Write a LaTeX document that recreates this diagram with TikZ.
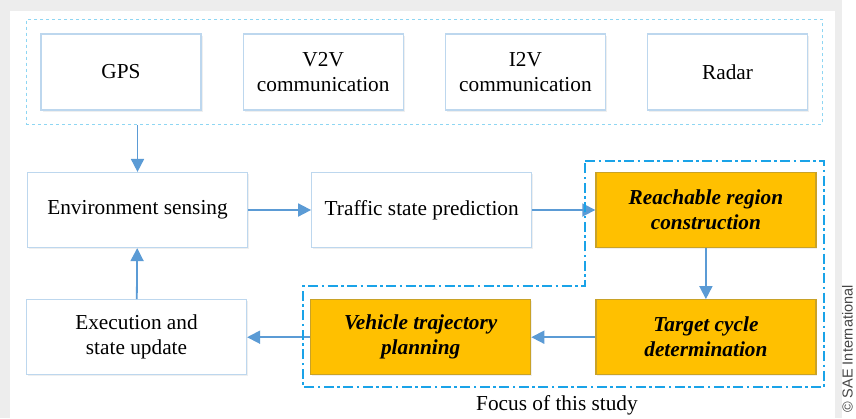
\documentclass[tikz,border=0pt]{standalone}
\usepackage{fontspec}
\setmainfont{Liberation Serif}
\newfontfamily\saefont{Liberation Sans}
\usetikzlibrary{positioning, fit, arrows.meta, shadows}
\definecolor{boxline}{HTML}{BDD7EE}
\definecolor{flowblue}{HTML}{5B9BD5}
\definecolor{focusgold}{HTML}{FFC000}
\definecolor{goldline}{HTML}{C9A227}
\definecolor{groupcyan}{HTML}{8ED6F3}
\definecolor{focuscyan}{HTML}{1AA3E8}
\tikzset{
    flow/.style={-{Triangle[length=13pt,width=13pt]}, draw=flowblue, line width=1.8pt},
    lightshadow/.style={drop shadow={opacity=0.12, shadow xshift=1.5pt, shadow yshift=-1.5pt}}
}

\begin{document}
\begin{tikzpicture}[
    x=1pt, y=-1pt,
    sensor/.style={draw=boxline, fill=white, line width=1.2pt, minimum width=160pt, minimum height=76pt,
        align=center, font=\fontsize{21.3}{25}\selectfont, lightshadow},
    block/.style={draw=boxline, fill=white, line width=1.2pt, minimum width=220pt, minimum height=75pt,
        align=center, font=\fontsize{21.3}{25}\selectfont, lightshadow},
    focusblock/.style={block, draw=goldline, fill=focusgold, font=\fontsize{21.3}{25}\selectfont\bfseries\itshape}
]
    \useasboundingbox (0,0) rectangle (856,418);
    % page and panel
    \fill[gray!14] (0,0) rectangle (842,418);
    \fill[white] (10,11) rectangle (835,418);

    % data sources
    \node[sensor] (gps) at (121,72) {GPS};
    \node[sensor, right=41pt of gps] (v2v) {V2V\\communication};
    \node[sensor, right=41pt of v2v] (i2v) {I2V\\communication};
    \node[sensor, right=41pt of i2v] (radar) {Radar};
    \node[draw=groupcyan, dashed, line width=1.3pt, inner sep=14pt, fit=(gps) (radar)] (sources) {};

    % main loop
    \node[block] (env) at (137.5,210) {Environment sensing};
    \node[block, right=63pt of env] (traffic) {Traffic state prediction};
    \node[focusblock, right=63pt of traffic] (reach) {Reachable region\\construction};
    \node[focusblock, below=51pt of reach] (target) {Target cycle\\determination};
    \node[focusblock, left=64pt of target] (vehicle) {Vehicle trajectory\\planning};
    \node[block, left=63pt of vehicle] (exec) {Execution and\\state update};

    \draw[flow] (env.north |- sources.south) -- (env.north);
    \draw[flow] (env) -- (traffic);
    \draw[flow] (traffic) -- (reach);
    \draw[flow] (reach) -- (target);
    \draw[flow] (target) -- (vehicle);
    \draw[flow] (vehicle) -- (exec);
    \draw[flow] (exec) -- (env);

    % focus region
    \draw[focuscyan, line width=1.4pt, dash pattern=on 10pt off 3.5pt on 2.5pt off 3.5pt]
        (585,161) -- (824,161) -- (824,387) -- (303,387) -- (303,286) -- (585,286) -- cycle;
    \node[font=\fontsize{21.3}{25}\selectfont] (focus) at (557,405) {Focus of this study};

    \node[rotate=90, font=\saefont\fontsize{14.5}{17}\selectfont, gray!55!black, anchor=west, inner sep=1pt] (sae) at (847.5,414) {\textcopyright{} SAE International};
\end{tikzpicture}
\end{document}
